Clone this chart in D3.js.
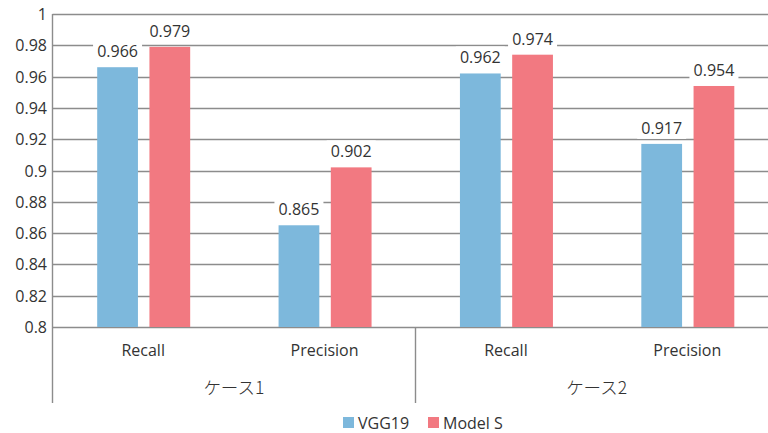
<!DOCTYPE html>
<html>
<head>
<meta charset="utf-8">
<script src="https://cdn.jsdelivr.net/npm/d3@7"></script>
<style>
  html, body { margin: 0; padding: 0; background: #ffffff; }
  svg { display: block; }
  text { font-family: "Open Sans", "Noto Sans CJK JP", sans-serif; fill: #333333; }
</style>
</head>
<body>
<svg id="chart" width="768" height="433"></svg>
<script>
// Grouped categories: two cases, each with Recall and Precision
const groups = ["ケース1", "ケース2"];
const metrics = ["Recall", "Precision"];
const seriesNames = ["VGG19", "Model S"];
const seriesColors = ["#7db8dc", "#f27981"];
const vgg19Values = [0.966, 0.865, 0.962, 0.917];
const modelSValues = [0.979, 0.902, 0.974, 0.954];
const yTicks = [0.8, 0.82, 0.84, 0.86, 0.88, 0.9, 0.92, 0.94, 0.96, 0.98, 1];

const svg = d3.select("#chart");
const W = 768;
const plotLeft = 52.5, plotRight = 778, plotTop = 14, plotBottom = 327;
const gridColor = "#8c8c8c";
const fontSize = "16px";

// One slot per (case, metric) pair
const slots = [];
groups.forEach((g, gi) => metrics.forEach((m, mi) => slots.push({ group: g, metric: m, idx: gi * metrics.length + mi })));

const x = d3.scaleBand().domain(slots.map(s => s.idx)).range([plotLeft, plotRight]).padding(0);
const xs = d3.scaleBand().domain(seriesNames).range([-46, 47]).paddingInner(0.22);
const y = d3.scaleLinear().domain([0.8, 1]).range([plotBottom, plotTop]);

// Horizontal gridlines
svg.append("g").selectAll("line").data(yTicks).join("line")
  .attr("x1", plotLeft).attr("x2", W)
  .attr("y1", d => Math.round(y(d)) + 0.5).attr("y2", d => Math.round(y(d)) + 0.5)
  .attr("stroke", gridColor).attr("stroke-width", 1.4);

// Y axis tick labels
svg.append("g").selectAll("text").data(yTicks).join("text")
  .attr("x", plotLeft - 5.5).attr("y", d => y(d))
  .attr("text-anchor", "end").attr("dominant-baseline", "central")
  .style("font-size", fontSize)
  .text(d => d3.format("")(+d.toFixed(2)));

// Bars
const barData = [];
slots.forEach(s => {
  barData.push({ slot: s, series: seriesNames[0], value: vgg19Values[s.idx], color: seriesColors[0] });
  barData.push({ slot: s, series: seriesNames[1], value: modelSValues[s.idx], color: seriesColors[1] });
});
const center = s => x(s.idx) + x.bandwidth() / 2;

svg.append("g").selectAll("rect").data(barData).join("rect")
  .attr("x", d => center(d.slot) + xs(d.series))
  .attr("width", xs.bandwidth())
  .attr("y", d => y(d.value))
  .attr("height", d => y(0.8) - y(d.value))
  .attr("fill", d => d.color);

// Value labels on white boxes
const labels = svg.append("g").selectAll("g").data(barData).join("g")
  .attr("transform", d => `translate(${center(d.slot) + xs(d.series) + xs.bandwidth() / 2},${y(d.value) - 16})`);
labels.append("rect")
  .attr("x", -24.5).attr("y", -11).attr("width", 49).attr("height", 22)
  .attr("fill", "#ffffff");
labels.append("text")
  .attr("text-anchor", "middle").attr("dominant-baseline", "central")
  .style("font-size", fontSize)
  .text(d => d3.format(".3f")(d.value));

// Axis lines: left axis extends into the category area, group separator below baseline
svg.append("line").attr("x1", plotLeft).attr("x2", plotLeft).attr("y1", plotTop).attr("y2", 403)
  .attr("stroke", gridColor).attr("stroke-width", 1.4);
const sepX = Math.round(x(2)) + 0.5;
svg.append("line").attr("x1", sepX).attr("x2", sepX).attr("y1", plotBottom).attr("y2", 403)
  .attr("stroke", gridColor).attr("stroke-width", 1.4);

// Metric labels
svg.append("g").selectAll("text").data(slots).join("text")
  .attr("x", d => center(d)).attr("y", 356)
  .attr("text-anchor", "middle")
  .style("font-size", fontSize)
  .text(d => d.metric);

// Case labels
svg.append("g").selectAll("text").data(groups).join("text")
  .attr("x", (d, i) => (x(i * 2) + x(i * 2 + 1) + x.bandwidth()) / 2)
  .attr("y", 394)
  .attr("text-anchor", "middle")
  .style("font-family", "'Noto Sans CJK JP', sans-serif")
  .style("font-size", "17.5px")
  .style("font-weight", 300)
  .text(d => d);

// Legend
const legendItems = [{ name: seriesNames[0], color: seriesColors[0], x: 343 }, { name: seriesNames[1], color: seriesColors[1], x: 428 }];
const lg = svg.append("g").selectAll("g").data(legendItems).join("g")
  .attr("transform", d => `translate(${d.x},0)`);
lg.append("rect").attr("x", 0).attr("y", 417).attr("width", 11).attr("height", 11).attr("fill", d => d.color);
lg.append("text").attr("x", 15).attr("y", 428.5)
  .style("font-size", fontSize)
  .text(d => d.name);
</script>
</body>
</html>
